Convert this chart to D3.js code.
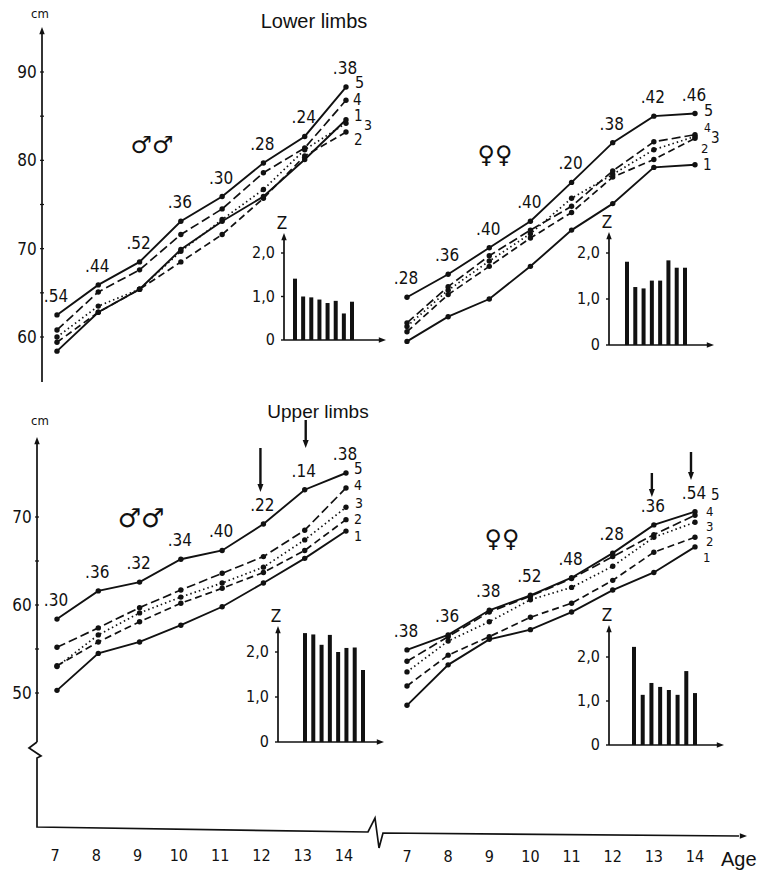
<!DOCTYPE html>
<html><head><meta charset="utf-8">
<script src="https://cdn.jsdelivr.net/npm/d3@7"></script>
<style>body{margin:0;background:#fff}svg{display:block}</style>
</head><body>
<script>
// ---------- DATA ----------
const ages = [7, 8, 9, 10, 11, 12, 13, 14];
const seriesNames = ["1", "2", "3", "4", "5"];

// lower limbs, boys (series 1..5)
const lowerMale = [
  [58.4, 62.8, 65.4, 69.9, 73.1, 75.9, 80.1, 84.6],
  [59.4, 62.8, 65.4, 68.5, 71.6, 75.7, 80.5, 83.2],
  [60.0, 63.5, 65.4, 69.7, 73.3, 76.7, 81.2, 84.2],
  [60.8, 65.1, 67.6, 71.6, 74.5, 78.6, 81.4, 86.8],
  [62.5, 65.9, 68.5, 73.1, 75.9, 79.7, 82.7, 88.3]
];
const lowerMaleR = [".54", ".44", ".52", ".36", ".30", ".28", ".24", ".38"];
const lowerMaleZ = [1.41, 1.0, 0.98, 0.93, 0.85, 0.9, 0.61, 0.88];

// lower limbs, girls
const lowerFemale = [
  [59.5, 62.3, 64.3, 68.0, 72.1, 75.1, 79.2, 79.5],
  [60.6, 64.8, 68.0, 71.2, 74.1, 78.1, 80.1, 82.5],
  [61.2, 65.3, 68.6, 71.7, 75.7, 78.4, 81.2, 82.7],
  [61.6, 65.7, 69.2, 72.1, 74.8, 78.8, 82.1, 82.9],
  [64.5, 67.1, 70.1, 73.1, 77.5, 82.0, 85.0, 85.3]
];
const lowerFemaleR = [".28", ".36", ".40", ".40", ".20", ".38", ".42", ".46"];
const lowerFemaleZ = [1.81, 1.26, 1.23, 1.40, 1.40, 1.84, 1.68, 1.68];

// upper limbs, boys
const upperMale = [
  [50.3, 54.5, 55.8, 57.7, 59.8, 62.5, 65.3, 68.4],
  [53.1, 55.8, 58.1, 60.2, 61.9, 63.7, 66.2, 69.7],
  [53.0, 56.6, 59.1, 60.9, 62.5, 64.3, 67.4, 71.1],
  [55.2, 57.4, 59.7, 61.7, 63.6, 65.5, 68.5, 73.3],
  [58.4, 61.6, 62.6, 65.2, 66.2, 69.2, 73.1, 75.0]
];
const upperMaleR = [".30", ".36", ".32", ".34", ".40", ".22", ".14", ".38"];
const upperMaleZ = [2.42, 2.39, 2.16, 2.38, 2.0, 2.09, 2.1, 1.6];

// upper limbs, girls
const upperFemale = [
  [48.6, 53.2, 56.1, 57.2, 59.2, 61.7, 63.7, 66.6],
  [50.8, 54.3, 56.4, 58.6, 60.2, 62.8, 66.0, 67.7],
  [52.4, 55.9, 58.1, 60.6, 62.0, 64.4, 67.7, 69.4],
  [53.6, 56.4, 59.2, 61.0, 63.0, 65.5, 68.0, 70.2],
  [54.9, 56.6, 59.4, 61.1, 63.1, 65.9, 69.1, 70.6]
];
const upperFemaleR = [".38", ".36", ".38", ".52", ".48", ".28", ".36", ".54"];
const upperFemaleZ = [2.23, 1.14, 1.41, 1.32, 1.25, 1.14, 1.68, 1.18];

const lowerTicks = [60, 70, 80, 90];
const upperTicks = [50, 60, 70];
const zTicks = [0, 1, 2];
const zTickLabels = ["0", "1,0", "2,0"];

// ---------- DRAW ----------
const W = 767, H = 875;
const svg = d3.select("body").append("svg").attr("width", W).attr("height", H);
svg.append("rect").attr("width", W).attr("height", H).attr("fill", "#fff");
const INK = "#111";
const NUMFONT = "'Liberation Sans Narrow', 'DejaVu Sans Condensed', sans-serif";
const TITLEFONT = "'Liberation Sans', Arial, sans-serif";

const xLeft = d3.scaleLinear().domain([7, 14]).range([57, 346]);
const xRight = d3.scaleLinear().domain([7, 14]).range([407, 695]);
const yLower = d3.scaleLinear().domain([60, 90]).range([337, 72]);
const yUpper = d3.scaleLinear().domain([50, 70]).range([693, 517]);

const dashes = [null, "7,4", "1.5,3", "9,4", null];

function tri(x, y, dir, s) {
  s = s || 5;
  let p;
  if (dir === "up") p = [[x, y], [x - s * 0.6, y + s * 1.6], [x + s * 0.6, y + s * 1.6]];
  else if (dir === "down") p = [[x, y], [x - s * 0.6, y - s * 1.6], [x + s * 0.6, y - s * 1.6]];
  else p = [[x, y], [x - s * 1.6, y - s * 0.6], [x - s * 1.6, y + s * 0.6]];
  svg.append("path").attr("d", "M" + p.map(q => q.join(",")).join("L") + "Z").attr("fill", INK);
}

function panel(x, y, series, rLabels, endOffsets, endSize) {
  const g = svg.append("g");
  const line = d3.line().x((d, i) => x(ages[i])).y(d => y(d));
  series.forEach((s, k) => {
    g.append("path").attr("d", line(s)).attr("fill", "none").attr("stroke", INK)
      .attr("stroke-width", k === 0 || k === 4 ? 1.9 : 1.7)
      .attr("stroke-dasharray", dashes[k]);
    g.selectAll(null).data(s).join("circle")
      .attr("cx", (d, i) => x(ages[i])).attr("cy", d => y(d)).attr("r", 2.7).attr("fill", INK);
  });
  const top = series[4];
  g.selectAll(null).data(rLabels).join("text")
    .attr("x", (d, i) => x(ages[i]) - 1).attr("y", (d, i) => y(top[i]) - 13)
    .attr("text-anchor", "middle").attr("font-family", NUMFONT).attr("font-size", 17)
    .attr("fill", INK).text(d => d);
  series.forEach((s, k) => {
    g.append("text").attr("x", x(14) + 8 + endOffsets[k][0]).attr("y", y(s[7]) + 5 + endOffsets[k][1])
      .attr("font-family", NUMFONT).attr("font-size", endSize[k]).attr("fill", INK).text(seriesNames[k]);
  });
}

function inset(x0, y0, y2, xEnd, top, b0, b1, values) {
  const y = d3.scaleLinear().domain([0, 2]).range([y0, y2]);
  const xb = d3.scaleLinear().domain([0, 7]).range([b0, b1]);
  svg.append("line").attr("x1", x0).attr("x2", x0).attr("y1", y0).attr("y2", top + 6)
    .attr("stroke", INK).attr("stroke-width", 1.7);
  tri(x0, top, "up", 4.5);
  svg.append("line").attr("x1", x0).attr("x2", xEnd - 6).attr("y1", y0).attr("y2", y0)
    .attr("stroke", INK).attr("stroke-width", 1.7);
  tri(xEnd, y0, "right", 4.5);
  svg.append("text").attr("x", x0 - 2).attr("y", top - 4).attr("text-anchor", "middle")
    .attr("font-family", NUMFONT).attr("font-size", 17).attr("fill", INK).text("Z");
  zTicks.forEach((t, i) => {
    svg.append("line").attr("x1", x0 - 3).attr("x2", x0).attr("y1", y(t)).attr("y2", y(t))
      .attr("stroke", INK).attr("stroke-width", 1.4);
    svg.append("text").attr("x", x0 - 9).attr("y", y(t) + 5).attr("text-anchor", "end")
      .attr("font-family", NUMFONT).attr("font-size", 16).attr("fill", INK).text(zTickLabels[i]);
  });
  svg.selectAll(null).data(values).join("rect")
    .attr("x", (d, i) => xb(i) - 2).attr("width", 4)
    .attr("y", d => y(d)).attr("height", d => y0 - y(d)).attr("fill", INK);
}

function yAxis(x, y, ticks, topY, botY) {
  svg.append("line").attr("x1", x).attr("x2", x).attr("y1", botY).attr("y2", topY + 6)
    .attr("stroke", INK).attr("stroke-width", 1.7);
  tri(x, topY, "up", 4.5);
  const minor = d3.range(ticks[0], ticks[ticks.length - 1] + 5, 5);
  minor.forEach(t => {
    svg.append("line").attr("x1", x - 2).attr("x2", x + 2).attr("y1", y(t)).attr("y2", y(t))
      .attr("stroke", INK).attr("stroke-width", 1.2);
  });
  ticks.forEach(t => {
    svg.append("text").attr("x", x - 15).attr("y", y(t) + 6).attr("text-anchor", "middle")
      .attr("font-family", NUMFONT).attr("font-size", 17).attr("fill", INK).text(t);
  });
}

// titles
svg.append("text").attr("x", 314).attr("y", 28).attr("text-anchor", "middle")
  .attr("font-family", TITLEFONT).attr("font-size", 20).attr("fill", INK).text("Lower limbs");
svg.append("text").attr("x", 318).attr("y", 418).attr("text-anchor", "middle")
  .attr("font-family", TITLEFONT).attr("font-size", 19).attr("fill", INK).text("Upper limbs");
svg.append("text").attr("x", 40).attr("y", 18).attr("text-anchor", "middle")
  .attr("font-family", NUMFONT).attr("font-size", 13).attr("fill", INK).text("cm");
svg.append("text").attr("x", 40).attr("y", 425).attr("text-anchor", "middle")
  .attr("font-family", NUMFONT).attr("font-size", 13).attr("fill", INK).text("cm");

// axes
yAxis(42, yLower, lowerTicks, 27, 382);
yAxis(37, yUpper, upperTicks, 437, 742);
svg.append("path").attr("d", "M37,742 L29,748 L41,756 L37,758 L37,827 L368,832 L375,818 L379,848 L383,833 L739,836")
  .attr("fill", "none").attr("stroke", INK).attr("stroke-width", 1.7);
tri(747, 836, "right", 4.5);
ages.forEach(a => {
  svg.append("text").attr("x", xLeft(a) - 2).attr("y", 861).attr("text-anchor", "middle")
    .attr("font-family", NUMFONT).attr("font-size", 16).attr("fill", INK).text(a);
  svg.append("text").attr("x", xRight(a)).attr("y", 862).attr("text-anchor", "middle")
    .attr("font-family", NUMFONT).attr("font-size", 16).attr("fill", INK).text(a);
});
svg.append("text").attr("x", 721).attr("y", 866)
  .attr("font-family", TITLEFONT).attr("font-size", 20).attr("fill", INK).text("Age");

// panels
panel(xLeft, yLower, lowerMale, lowerMaleR,
  [[0, -3.7], [0, 7.9], [10, 1.7], [-1, -0.3], [1, -4]], [15, 15, 14, 15, 16]);
panel(xRight, yLower, lowerFemale, lowerFemaleR,
  [[0, 0], [-2, 10], [8, 2], [1, -8], [1, -2.5]], [15, 13, 15, 12, 16]);
panel(xLeft, yUpper, upperMale, upperMaleR,
  [[0, 5], [0, -0.6], [1, -4.3], [0, -3.3], [0, -4]], [14, 14, 14, 14, 15]);
panel(xRight, yUpper, upperFemale, upperFemaleR,
  [[0, 10], [3, 3.8], [3, 3.7], [3, -4.2], [8, -16.7]], [13, 13, 13, 13, 15]);

// insets
inset(284, 340, 253, 386, 233, 295, 352, lowerMaleZ);
inset(609, 345, 253, 714, 232, 627, 685, lowerFemaleZ);
inset(278, 742, 652, 384, 626, 305, 363, upperMaleZ);
inset(609, 745, 657, 724, 625, 634, 695, upperFemaleZ);

// sex symbols
const SYM = "'DejaVu Sans', sans-serif";
svg.append("text").attr("x", 152).attr("y", 153).attr("text-anchor", "middle").attr("font-family", SYM)
  .attr("font-size", 24).attr("fill", INK).text("\u2642\u2642");
svg.append("text").attr("x", 495).attr("y", 163).attr("text-anchor", "middle").attr("font-family", SYM)
  .attr("font-size", 24).attr("fill", INK).text("\u2640\u2640");
svg.append("text").attr("x", 141).attr("y", 527).attr("text-anchor", "middle").attr("font-family", SYM)
  .attr("font-size", 26).attr("fill", INK).text("\u2642\u2642");
svg.append("text").attr("x", 502).attr("y", 547).attr("text-anchor", "middle").attr("font-family", SYM)
  .attr("font-size", 24).attr("fill", INK).text("\u2640\u2640");

// significance arrows
function sigArrow(x, yTop, yTip) {
  svg.append("line").attr("x1", x).attr("x2", x).attr("y1", yTop).attr("y2", yTip - 8)
    .attr("stroke", INK).attr("stroke-width", 2.4);
  tri(x, yTip, "down", 5);
}
sigArrow(xLeft(12) - 3, 448, 492);
sigArrow(xLeft(13) + 1, 420, 448);
sigArrow(xRight(13) - 2, 473, 497);
sigArrow(xRight(14) - 4, 452, 480);
</script>
</body></html>
